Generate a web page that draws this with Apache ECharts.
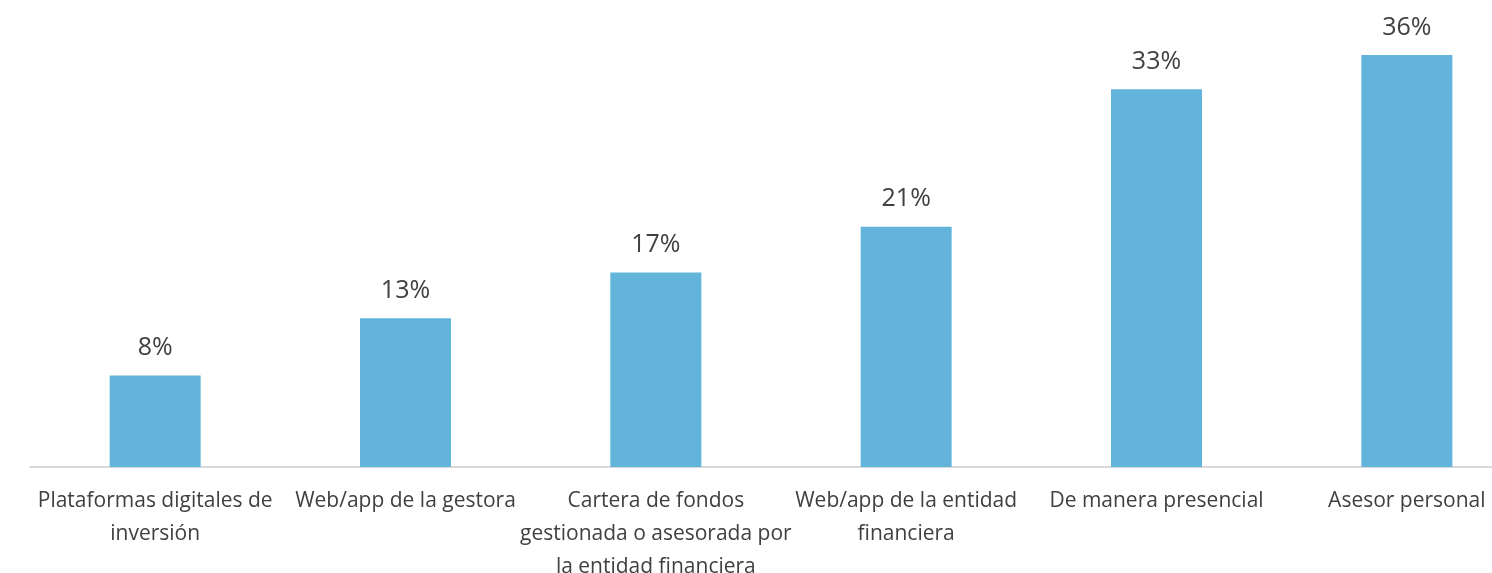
<!DOCTYPE html>
<html>
<head>
<meta charset="utf-8">
<script src="https://cdn.jsdelivr.net/npm/echarts@6/dist/echarts.min.js"></script>
<style>
html,body{margin:0;padding:0;background:#fff;}
#chart{width:1492px;height:573px;}
</style>
</head>
<body>
<div id="chart"></div>
<script>
const categories = [
  "Plataformas digitales de\ninversión",
  "Web/app de la gestora",
  "Cartera de fondos\ngestionada o asesorada por\nla entidad financiera",
  "Web/app de la entidad\nfinanciera",
  "De manera presencial",
  "Asesor personal"
];
const values = [8, 13, 17, 21, 33, 36];

const chart = echarts.init(document.getElementById('chart'), null, {renderer: 'canvas'});
chart.setOption({
  backgroundColor: '#ffffff',
  animation: false,
  grid: {left: 30, right: -40, top: 55, bottom: 106, containLabel: false, outerBoundsMode: 'none'},
  xAxis: {
    type: 'category',
    data: categories,
    axisLine: {show: true, lineStyle: {color: '#d9d9d9', width: 2}},
    axisTick: {show: false},
    axisLabel: {
      interval: 0,
      color: '#404040',
      fontFamily: 'Open Sans',
      fontSize: 21,
      lineHeight: 33,
      margin: 18,
      verticalAlign: 'top',
      hideOverlap: false
    }
  },
  yAxis: {
    type: 'value',
    min: 0,
    max: 36,
    show: false,
    splitLine: {show: false}
  },
  series: [{
    type: 'bar',
    data: values,
    barWidth: 91,
    itemStyle: {color: '#62b4da'},
    label: {
      show: true,
      position: 'top',
      distance: 15,
      color: '#404040',
      fontFamily: 'Open Sans',
      fontSize: 25,
      formatter: p => p.value + '%'
    }
  }]
});
</script>
</body>
</html>
